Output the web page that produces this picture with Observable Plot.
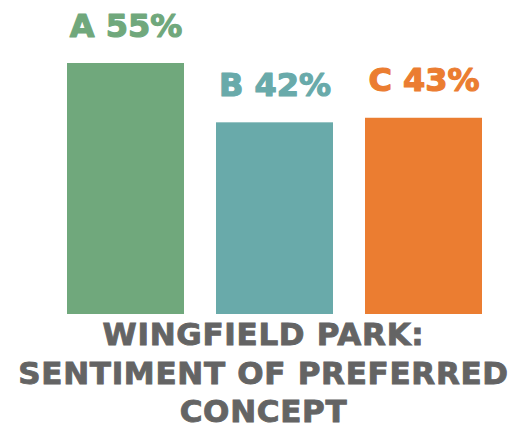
<!DOCTYPE html>
<html>
<head>
<meta charset="utf-8">
<script src="https://cdn.jsdelivr.net/npm/d3@7"></script>
<script src="https://cdn.jsdelivr.net/npm/@observablehq/plot@0.6"></script>
<style>
  html, body { margin: 0; padding: 0; background: #fff; overflow: hidden; }
  #chart svg { display: block; }
  #title {
    position: relative;
    left: 4px;
    width: 519px;
    text-align: center;
    font-family: "DejaVu Sans", sans-serif;
    font-weight: bold;
    font-size: 31px;
    line-height: 38.5px;
    letter-spacing: 0.7px;
    color: #646464;
    -webkit-text-stroke: 0.9px #646464;
    white-space: nowrap;
  }
</style>
</head>
<body>
<div id="chart"></div>
<div id="title">WINGFIELD PARK:<br>SENTIMENT OF PREFERRED<br>CONCEPT</div>
<script>
const concepts = ["A", "B", "C"];
const percents = [55, 42, 43];
const colors = ["#70a87c", "#69aaaa", "#eb7d31"];

const data = concepts.map((c, i) => ({concept: c, value: percents[i], label: `${c} ${percents[i]}%`}));

const chart = Plot.plot({
  width: 519,
  height: 315,
  marginTop: 0, marginBottom: 0, marginLeft: 0, marginRight: 0,
  style: {background: "#fff", overflow: "visible"},
  x: {domain: concepts, range: [50, 500], paddingInner: 0.2133, paddingOuter: 0.1067, axis: null},
  y: {domain: [0, 55], range: [314, 63], axis: null},
  color: {domain: concepts, range: colors},
  marks: [
    Plot.barY(data, {x: "concept", y: "value", fill: "concept"}),
    Plot.text(data, {
      x: "concept", y: "value", text: "label", fill: "concept",
      stroke: "concept", strokeWidth: 1.2, paintOrder: "normal",
      lineAnchor: "bottom", dy: -27,
      fontSize: 32, fontWeight: "bold", fontFamily: "DejaVu Sans",
      style: "letter-spacing:1.5px"
    })
  ]
});
document.getElementById("chart").appendChild(chart);
</script>
</body>
</html>
